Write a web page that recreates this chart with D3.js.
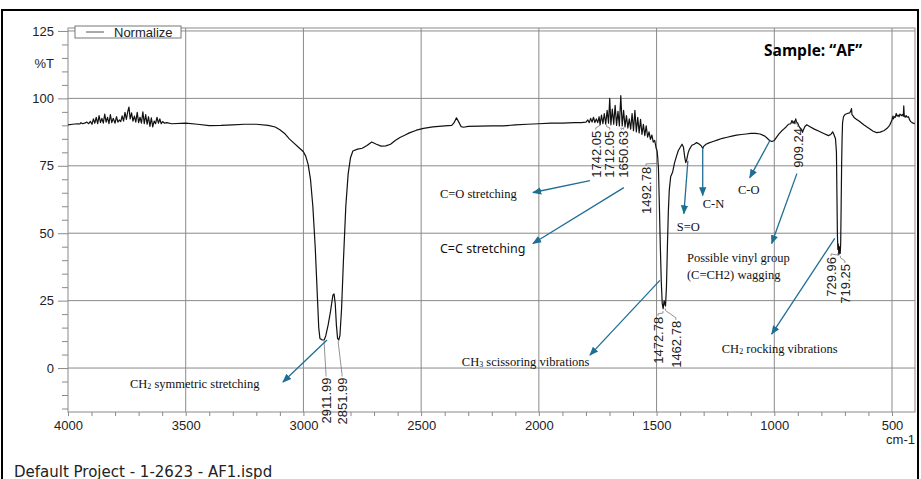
<!DOCTYPE html>
<html lang="en">
<head>
<meta charset="UTF-8">
<script src="https://cdn.jsdelivr.net/npm/d3@7/dist/d3.min.js"></script>
<title>FTIR AF</title>
<style>
  body { margin: 0; background: #fff; }
  svg { display: block; }
  .tick text { font-family: "Liberation Sans", Arial, sans-serif; }
</style>
</head>
<body>
<svg id="mainsvg" width="921" height="479"></svg>
<script>
// spectrum: wavenumber (cm-1) and %T
const wavenumber = [
  4000, 3980, 3960, 3950, 3945, 3938, 3930, 3920, 3912, 3905, 3898, 3892, 3886, 3880, 3874, 3868, 3862, 3856, 3850, 3844,
  3838, 3832, 3826, 3820, 3814, 3808, 3800, 3794, 3788, 3782, 3776, 3770, 3764, 3758, 3752, 3746, 3741, 3736, 3730, 3724,
  3718, 3712, 3706, 3700, 3694, 3688, 3682, 3676, 3670, 3664, 3658, 3652, 3646, 3640, 3634, 3628, 3622, 3616, 3610, 3604,
  3598, 3590, 3580, 3560, 3500, 3450, 3400, 3350, 3300, 3250, 3200, 3150, 3120, 3100, 3080, 3060, 3040, 3020, 3000, 2990,
  2980, 2970, 2960, 2950, 2940, 2935, 2930, 2920, 2912, 2905, 2895, 2885, 2875, 2870, 2865, 2860, 2855, 2850, 2845, 2838,
  2830, 2820, 2810, 2800, 2790, 2770, 2750, 2730, 2710, 2690, 2670, 2650, 2630, 2610, 2590, 2570, 2550, 2520, 2490, 2450,
  2400, 2370, 2360, 2350, 2340, 2330, 2320, 2300, 2250, 2200, 2150, 2100, 2050, 2000, 1950, 1900, 1850, 1820, 1800, 1792,
  1786, 1780, 1774, 1768, 1762, 1756, 1750, 1744, 1740, 1734, 1728, 1722, 1716, 1710, 1704, 1699, 1694, 1688, 1682, 1676,
  1670, 1664, 1658, 1652, 1646, 1640, 1634, 1628, 1622, 1616, 1610, 1604, 1598, 1592, 1586, 1580, 1574, 1568, 1562, 1556,
  1550, 1544, 1538, 1532, 1526, 1520, 1514, 1508, 1502, 1498, 1495, 1492, 1488, 1484, 1480, 1476, 1472, 1468, 1464, 1462,
  1458, 1454, 1450, 1446, 1440, 1432, 1424, 1416, 1408, 1400, 1392, 1386, 1380, 1376, 1372, 1366, 1360, 1350, 1340, 1330,
  1318, 1310, 1304, 1300, 1290, 1280, 1260, 1240, 1220, 1200, 1180, 1160, 1140, 1120, 1100, 1080, 1060, 1040, 1030, 1020,
  1010, 1000, 990, 980, 970, 960, 950, 940, 930, 925, 920, 915, 912, 909, 905, 900, 895, 890, 885, 880,
  876, 870, 862, 850, 830, 810, 790, 770, 760, 752, 746, 740, 736, 734, 732, 730, 728, 726, 724, 722,
  720, 718, 716, 714, 712, 710, 706, 700, 690, 680, 676, 672, 670, 666, 660, 650, 640, 620, 600, 580,
  565, 550, 535, 522, 510, 500, 496, 494, 490, 486, 482, 478, 474, 470, 466, 460, 456, 452, 450, 448,
  444, 440, 436, 430, 425, 420, 415, 403
]
const transmittance = [
  90.2, 90.4, 90.6, 90.5, 91.0, 90.6, 90.8, 91.2, 90.6, 91.5, 90.4, 92.4, 90.8, 93.0, 90.6, 93.6, 91.0, 92.6, 90.8, 94.2,
  91.2, 93.0, 90.6, 94.0, 91.0, 92.6, 90.8, 93.2, 91.2, 92.0, 91.4, 93.5, 91.6, 94.8, 92.2, 95.2, 96.8, 92.4, 94.6, 91.6,
  93.4, 91.2, 94.8, 91.0, 93.0, 90.8, 95.0, 90.6, 94.0, 90.4, 93.2, 89.6, 92.8, 89.4, 91.6, 90.6, 93.0, 90.8, 92.4, 90.6,
  91.4, 90.8, 91.0, 90.6, 90.8, 90.4, 89.9, 90.0, 90.2, 90.4, 90.4, 90.0, 89.4, 88.4, 87.0, 85.0, 83.4, 81.8, 80.2, 78.5,
  75.5, 70.0, 60.0, 45.0, 25.0, 15.0, 11.0, 10.4, 10.4, 12.0, 16.0, 21.0, 27.0, 27.5, 24.0, 16.0, 11.0, 10.4, 12.0, 22.0,
  40.0, 60.0, 72.0, 78.0, 80.5, 81.2, 81.5, 82.5, 83.8, 83.0, 82.3, 82.4, 83.0, 84.4, 85.5, 86.3, 87.2, 88.2, 88.9, 89.4,
  89.8, 90.0, 91.0, 92.8, 91.2, 89.5, 89.3, 89.6, 89.7, 89.8, 89.8, 90.2, 90.4, 90.6, 90.8, 90.8, 91.0, 91.0, 91.2, 92.0,
  91.0, 92.6, 91.2, 93.0, 91.0, 92.4, 91.0, 93.2, 90.2, 93.8, 90.6, 94.4, 90.4, 95.6, 90.8, 100.0, 90.2, 96.0, 90.4, 97.4,
  90.0, 95.2, 89.8, 101.0, 89.8, 95.6, 89.4, 93.6, 89.0, 92.4, 88.6, 94.4, 88.0, 95.6, 87.6, 93.0, 87.2, 92.2, 86.6, 90.4,
  86.2, 89.8, 85.6, 87.6, 84.8, 86.4, 83.8, 84.4, 81.6, 80.6, 78.0, 74.0, 60.0, 45.0, 32.0, 24.0, 22.0, 25.0, 23.5, 23.0,
  30.0, 45.0, 58.0, 66.0, 71.0, 72.6, 76.0, 78.4, 80.6, 81.8, 83.0, 82.0, 78.0, 76.2, 77.2, 79.8, 81.2, 82.6, 83.0, 83.6,
  83.0, 82.4, 81.4, 82.2, 83.0, 83.4, 84.0, 84.6, 85.2, 85.6, 86.0, 86.4, 86.6, 86.8, 87.0, 87.0, 86.8, 86.0, 85.2, 84.4,
  84.0, 84.4, 85.6, 86.8, 87.8, 88.6, 89.4, 90.4, 90.6, 91.8, 90.8, 91.6, 90.6, 92.4, 91.2, 90.8, 89.6, 89.0, 88.6, 87.4,
  88.4, 89.6, 90.2, 89.6, 88.6, 87.8, 87.0, 86.2, 86.6, 87.6, 86.4, 85.0, 80.0, 65.0, 50.0, 44.0, 46.0, 42.0, 45.0, 43.0,
  42.5, 46.0, 60.0, 75.0, 85.0, 91.0, 93.2, 94.0, 94.4, 94.6, 95.2, 96.2, 94.0, 93.6, 92.8, 92.2, 91.6, 90.2, 89.0, 87.8,
  87.3, 87.5, 88.0, 88.8, 90.0, 92.0, 93.4, 92.4, 93.2, 93.0, 94.4, 93.4, 93.8, 93.2, 94.2, 93.6, 94.0, 93.4, 97.2, 93.6,
  93.0, 93.6, 93.0, 93.2, 92.0, 91.4, 91.0, 90.6
]

// axis ticks
const xTicks = [4000, 3500, 3000, 2500, 2000, 1500, 1000, 500]
const yTicks = [125, 100, 75, 50, 25, 0]

// labelled peaks
const peakWn = [2911.99, 2851.99, 1742.05, 1712.05, 1650.63, 1492.78, 1472.78, 1462.78, 909.24, 729.96, 719.25]
const peakT = [10.4, 10.4, 91.0, 90.6, 89.6, 77.0, 21.5, 22.5, 92.0, 43.0, 42.0]

// band assignments
const bandText = ['CH₂ symmetric stretching', 'C=O stretching', 'C=C stretching', 'CH₃ scissoring vibrations',
  'S=O', 'C-N', 'C-O', 'Possible vinyl group', 'CH₂ rocking vibrations']

const svg = d3.select('#mainsvg')
const margin = { top: 28, right: 6, bottom: 67, left: 68 }
const width = +svg.attr('width'), height = +svg.attr('height')
const innerWidth = width - margin.left - margin.right
const innerHeight = height - margin.top - margin.bottom

const x = d3.scaleLinear().domain([4000, 402.3]).range([margin.left, margin.left + innerWidth])
const y = d3.scaleLinear().domain([-16.3, 126.1]).range([margin.top + innerHeight, margin.top])

const gridColor = '#8a8a8a'
const teal = '#1f6e94'
const sans = '"Liberation Sans", Arial, sans-serif'
const serif = '"Liberation Serif", "Times New Roman", serif'

// outer frame of the picture
svg.append('path').attr('d', `M2,479 V10 H918 V479`).attr('fill', 'none').attr('stroke', '#000').attr('stroke-width', 2)

// grid
const grid = svg.append('g')
grid.selectAll('.vg').data(xTicks.filter(d => d !== 4000)).join('line')
  .attr('x1', d => x(d)).attr('x2', d => x(d)).attr('y1', margin.top).attr('y2', margin.top + innerHeight)
  .attr('stroke', gridColor)
grid.selectAll('.hg').data(yTicks).join('line')
  .attr('x1', margin.left).attr('x2', margin.left + innerWidth).attr('y1', d => y(d)).attr('y2', d => y(d))
  .attr('stroke', gridColor)
svg.append('rect').attr('x', margin.left).attr('y', margin.top).attr('width', innerWidth).attr('height', innerHeight)
  .attr('fill', 'none').attr('stroke', gridColor)

// axes
const xAxis = d3.axisBottom(x).tickValues(d3.range(4000, 400, -100)).tickSize(4)
  .tickFormat(d => xTicks.includes(d) ? d : '')
const gx = svg.append('g').attr('transform', `translate(0,${margin.top + innerHeight})`).call(xAxis)
gx.select('.domain').remove()
gx.selectAll('.tick line').attr('stroke', gridColor)
gx.selectAll('.tick text').attr('font-size', 13).attr('fill', '#222').attr('y', 9)
gx.selectAll('.tick text').filter(function () { return this.textContent === '' }).remove()

const yAxis = d3.axisLeft(y).tickValues(d3.range(-15, 126, 5)).tickSize(5)
  .tickFormat(d => yTicks.includes(d) ? d : '')
const gy = svg.append('g').attr('transform', `translate(${margin.left},0)`).call(yAxis)
gy.select('.domain').remove()
gy.selectAll('.tick line').attr('stroke', gridColor).attr('x2', d => yTicks.includes(d) ? -10 : -6)
gy.selectAll('.tick text').attr('font-size', 13).attr('fill', '#222').attr('x', -14)
gy.selectAll('.tick text').filter(function () { return this.textContent === '' }).remove()

svg.append('text').text('%T').attr('x', 54).attr('y', y(113))
  .attr('text-anchor', 'end').attr('dy', '0.35em').attr('font-size', 13)
  .attr('font-family', sans).attr('fill', '#222')
svg.append('text').text('cm-1').attr('x', margin.left + innerWidth).attr('y', 444)
  .attr('text-anchor', 'end').attr('font-size', 13)
  .attr('font-family', sans).attr('fill', '#222')

// spectrum
const pts = wavenumber.map((w, i) => [w, transmittance[i]])
svg.append('path').datum(pts)
  .attr('d', d3.line().x(d => x(d[0])).y(d => y(d[1])))
  .attr('fill', 'none').attr('stroke', '#111').attr('stroke-width', 1.2).attr('stroke-linejoin', 'round')

// legend
const lg = svg.append('g')
lg.append('rect').attr('x', 75).attr('y', 26).attr('width', 106).attr('height', 12)
  .attr('fill', '#fff').attr('stroke', '#777')
lg.append('line').attr('x1', 86).attr('x2', 104).attr('y1', 32).attr('y2', 32).attr('stroke', '#555')
lg.append('text').text('Normalize').attr('x', 114).attr('y', 37).attr('font-size', 13)
  .attr('font-family', sans).attr('fill', '#222')

svg.append('text').text('Sample: “AF”').attr('x', 764).attr('y', 56)
  .attr('font-size', 15.5).attr('font-weight', 'bold').attr('font-family', '"Open Sans", "Liberation Sans", sans-serif')

// peak labels (top of the rotated text, in data units)
const peakLabelPos = [
  [2904, -3.5], [2836, -3.5], [1758, 88], [1699, 88], [1640, 88], [1545, 74.6], [1494, 19], [1418, 17.5],
  [900, 89], [759, 41.2], [700, 38.6]
]
const pl = svg.append('g')
peakWn.forEach((w, i) => {
  const [lw, lt] = peakLabelPos[i]
  pl.append('polyline')
    .attr('points', `${x(w)},${y(peakT[i]) + 1} ${x(w)},${y(peakT[i]) + 3} ${x(lw)},${y(lt) - 3} ${x(lw)},${y(lt) - 1}`)
    .attr('fill', 'none').attr('stroke', '#777').attr('stroke-width', 0.8)
  pl.append('text').text(w.toFixed(2))
    .attr('transform', `translate(${x(lw)},${y(lt)}) rotate(-90)`)
    .attr('text-anchor', 'end').attr('dy', '0.36em').attr('font-size', 13)
    .attr('font-family', sans).attr('fill', '#222')
})

// band annotations: text anchor and arrow (data units)
const bandPos = [
  { t: [3737, -7.4], a: [[2900, 10.4], [3087, -5.2]] },
  { t: [2420, 63.2], a: [[1783, 69.5], [2025, 65.1]] },
  { t: [2420, 42.5], a: [[1639, 66.9], [2025, 46.2]], sans: true },
  { t: [2327, 0.7], a: [[1486, 32.5], [1783, 4.8]] },
  { t: [1414, 51], a: [[1367, 76.9], [1384, 57.3]] },
  { t: [1304, 59.5], a: [[1304, 81.7], [1304, 64]] },
  { t: [1154, 64.7], a: [[1019, 84.3], [1104, 70.6]] },
  { t: [1371, 39.3], a: [[904, 72.1], [1011, 46.2]], second: '(C=CH2) wagging' },
  { t: [1223, 5.5], a: [[743, 48.1], [1011, 12.6]] }
]

svg.append('defs').append('marker').attr('id', 'ah')
  .attr('viewBox', '0 0 10 10').attr('refX', 9).attr('refY', 5)
  .attr('markerWidth', 7).attr('markerHeight', 7).attr('orient', 'auto-start-reverse')
  .append('path').attr('d', 'M0,1 L10,5 L0,9 Z').attr('fill', teal)

const ann = svg.append('g')
bandText.forEach((txt, i) => {
  const p = bandPos[i]
  ann.append('line')
    .attr('x1', x(p.a[0][0])).attr('y1', y(p.a[0][1]))
    .attr('x2', x(p.a[1][0])).attr('y2', y(p.a[1][1]))
    .attr('stroke', teal).attr('stroke-width', 1.3).attr('marker-end', 'url(#ah)')
  const t = ann.append('text').attr('x', x(p.t[0])).attr('y', y(p.t[1]))
    .attr('font-size', 12.5).attr('fill', '#111')
    .attr('font-family', p.sans ? '"Noto Sans", "Liberation Sans", sans-serif' : serif)
  const m = txt.match(/^(CH)([₂₃])(.*)$/)
  if (m) {
    t.append('tspan').text(m[1])
    t.append('tspan').text(m[2] === '₂' ? '2' : '3').attr('font-size', 8).attr('dy', 1)
    t.append('tspan').text(m[3]).attr('dy', -1)
  } else {
    t.text(txt)
  }
  if (p.second) {
    ann.append('text').text(p.second).attr('x', x(p.t[0])).attr('y', y(p.t[1]) + 17)
      .attr('font-size', 12.5).attr('fill', '#111').attr('font-family', serif)
  }
})

svg.append('text').text('Default Project - 1-2623 - AF1.ispd').attr('x', 14).attr('y', 477)
  .attr('font-size', 15).attr('font-family', '"DejaVu Sans", "Liberation Sans", sans-serif').attr('fill', '#222')
</script>
</body>
</html>
